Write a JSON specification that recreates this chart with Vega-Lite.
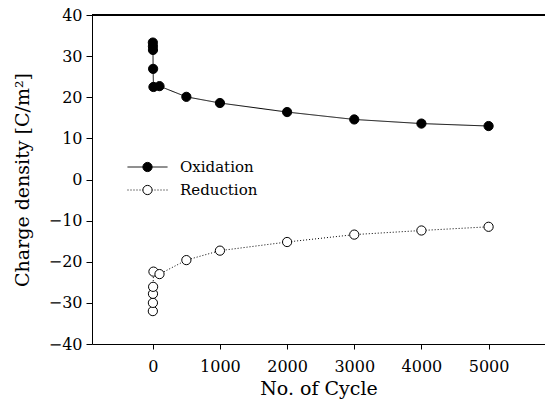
{
  "$schema": "https://vega.github.io/schema/vega-lite/v6.json",
  "width": 453,
  "height": 329,
  "autosize": "none",
  "padding": {"left": 92, "top": 15, "right": 0, "bottom": 67},
  "background": "white",
  "config": {
    "view": {"stroke": null},
    "font": "DejaVu Serif",
    "axis": {
      "grid": false,
      "domainColor": "black",
      "tickColor": "black",
      "labelColor": "black",
      "titleColor": "black",
      "labelFont": "DejaVu Serif",
      "titleFont": "DejaVu Serif",
      "labelFontSize": 16,
      "titleFontSize": 19,
      "titleFontWeight": "normal",
      "tickSize": 5
    },
    "legend": {
      "labelFont": "DejaVu Serif",
      "labelFontSize": 15,
      "labelColor": "black"
    }
  },
  "data": {
    "values": [
      {"cycle": 1, "q": 33.3, "series": "Oxidation"},
      {"cycle": 2, "q": 32.4, "series": "Oxidation"},
      {"cycle": 3, "q": 31.5, "series": "Oxidation"},
      {"cycle": 5, "q": 26.9, "series": "Oxidation"},
      {"cycle": 10, "q": 22.5, "series": "Oxidation"},
      {"cycle": 100, "q": 22.7, "series": "Oxidation"},
      {"cycle": 500, "q": 20.1, "series": "Oxidation"},
      {"cycle": 1000, "q": 18.6, "series": "Oxidation"},
      {"cycle": 2000, "q": 16.4, "series": "Oxidation"},
      {"cycle": 3000, "q": 14.6, "series": "Oxidation"},
      {"cycle": 4000, "q": 13.6, "series": "Oxidation"},
      {"cycle": 5000, "q": 13.0, "series": "Oxidation"},
      {"cycle": 1, "q": -32.0, "series": "Reduction"},
      {"cycle": 2, "q": -30.0, "series": "Reduction"},
      {"cycle": 3, "q": -27.8, "series": "Reduction"},
      {"cycle": 5, "q": -26.1, "series": "Reduction"},
      {"cycle": 10, "q": -22.4, "series": "Reduction"},
      {"cycle": 100, "q": -23.0, "series": "Reduction"},
      {"cycle": 500, "q": -19.6, "series": "Reduction"},
      {"cycle": 1000, "q": -17.3, "series": "Reduction"},
      {"cycle": 2000, "q": -15.2, "series": "Reduction"},
      {"cycle": 3000, "q": -13.4, "series": "Reduction"},
      {"cycle": 4000, "q": -12.4, "series": "Reduction"},
      {"cycle": 5000, "q": -11.5, "series": "Reduction"}
    ]
  },
  "encoding": {
    "x": {
      "field": "cycle",
      "type": "quantitative",
      "scale": {"domain": [-905, 5840], "nice": false, "zero": false},
      "axis": {"title": "No. of Cycle", "values": [0, 1000, 2000, 3000, 4000, 5000], "format": "d", "labelPadding": 9, "titlePadding": 5, "labelFlush": false}
    },
    "y": {
      "field": "q",
      "type": "quantitative",
      "scale": {"domain": [-40, 40], "nice": false},
      "axis": {"title": "Charge density [C/m²]", "values": [-40, -30, -20, -10, 0, 10, 20, 30, 40], "labelPadding": 4, "titlePadding": 16, "tickSize": 6, "labelFlush": false}
    }
  },
  "layer": [
    {
      "mark": {"type": "rule", "color": "black", "strokeWidth": 1},
      "encoding": {"y": {"datum": 40}, "x": null}
    },
    {
      "mark": {"type": "line", "color": "black", "strokeWidth": 1},
      "encoding": {
        "strokeDash": {
          "field": "series",
          "type": "nominal",
          "scale": {"range": [[1, 0], [1, 2]]},
          "legend": {
            "title": null,
            "orient": "none",
            "legendX": 36,
            "legendY": 144.5,
            "symbolType": "M-4,0H4",
            "symbolSize": 100,
            "symbolStrokeColor": "black",
            "symbolStrokeWidth": 1,
            "symbolOffset": 12,
            "labelOffset": 25,
            "padding": 0,
            "rowPadding": 7
          }
        }
      }
    },
    {
      "mark": {"type": "point", "shape": "circle", "size": 85, "stroke": "black", "strokeWidth": 1, "opacity": 1},
      "encoding": {
        "fill": {
          "field": "series",
          "type": "nominal",
          "scale": {"domain": ["Oxidation", "Reduction"], "range": ["black", "white"]},
          "legend": {
            "title": null,
            "orient": "none",
            "legendX": 36,
            "legendY": 144.5,
            "symbolType": "circle",
            "symbolSize": 85,
            "symbolStrokeColor": "black",
            "symbolStrokeWidth": 1,
            "symbolOffset": 12,
            "labelOffset": 12,
            "labelExpr": "''",
            "padding": 0,
            "rowPadding": 7
          }
        }
      }
    }
  ]
}
